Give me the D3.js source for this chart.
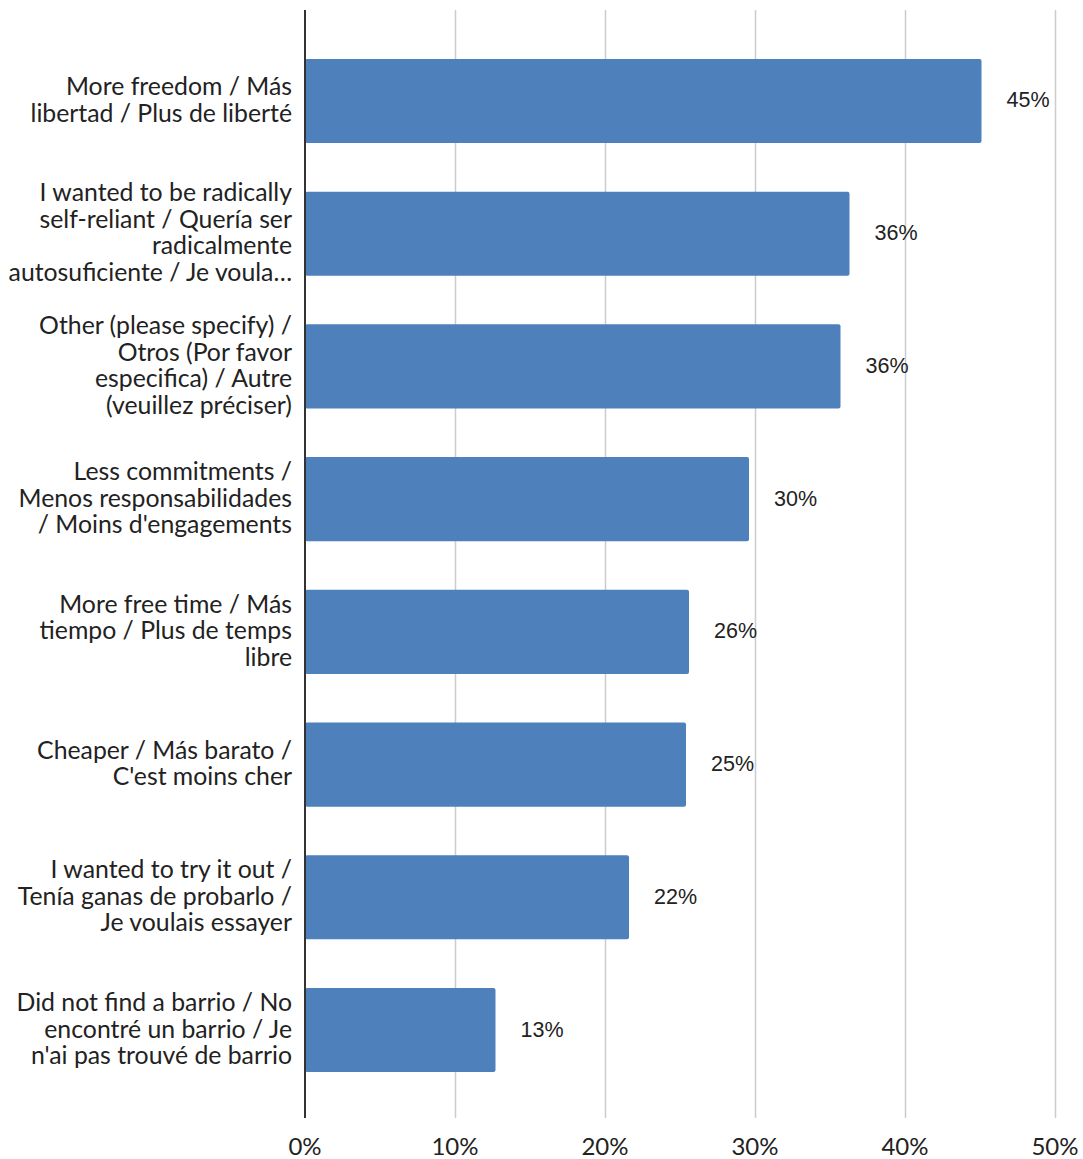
<!DOCTYPE html>
<html>
<head>
<meta charset="utf-8">
<script src="https://cdn.jsdelivr.net/npm/d3@7"></script>
<style>
  body { margin: 0; background: #fff; }
  svg { display: block; }
</style>
</head>
<body>
<svg id="chart" width="1083" height="1159"></svg>
<script>
// categories, one line of the label per array entry
var categories = [
  ["More freedom / Más", "libertad / Plus de liberté"],
  ["I wanted to be radically", "self-reliant / Quería ser", "radicalmente", "autosuficiente / Je voula…"],
  ["Other (please specify) /", "Otros (Por favor", "especifica) / Autre", "(veuillez préciser)"],
  ["Less commitments /", "Menos responsabilidades", "/ Moins d'engagements"],
  ["More free time / Más", "tiempo / Plus de temps", "libre"],
  ["Cheaper / Más barato /", "C'est moins cher"],
  ["I wanted to try it out /", "Tenía ganas de probarlo /", "Je voulais essayer"],
  ["Did not find a barrio / No", "encontré un barrio / Je", "n'ai pas trouvé de barrio"]
];
var values = [45.1, 36.3, 35.7, 29.6, 25.6, 25.4, 21.6, 12.7];
var valueLabels = ["45%", "36%", "36%", "30%", "26%", "25%", "22%", "13%"];
var ticks = [0, 10, 20, 30, 40, 50];

var data = values.map(function(v, i){
  return { key: i, lines: categories[i], value: v, label: valueLabels[i] };
});

var svg = d3.select("#chart");
var plotTop = 10, plotBottom = 1118;

var x = d3.scaleLinear().domain([0, 50]).range([305, 1055]);
var y = d3.scaleBand()
  .domain(data.map(d => d.key))
  .range([34.6, 1096.4])
  .paddingInner(0.367)
  .paddingOuter(0.183);

// gridlines
svg.append("g").selectAll("line")
  .data(ticks.filter(t => t > 0))
  .enter().append("line")
  .attr("x1", d => x(d) + 0.5).attr("x2", d => x(d) + 0.5)
  .attr("y1", plotTop).attr("y2", plotBottom)
  .attr("stroke", "#cccccc").attr("stroke-width", 1.5);

// bars
svg.append("g").selectAll("rect")
  .data(data)
  .enter().append("rect")
  .attr("x", x(0))
  .attr("y", d => y(d.key))
  .attr("width", d => x(d.value) - x(0))
  .attr("height", y.bandwidth())
  .attr("rx", 2)
  .attr("fill", "#4e80bc");

// axis line
svg.append("line")
  .attr("x1", x(0)).attr("x2", x(0))
  .attr("y1", plotTop).attr("y2", plotBottom)
  .attr("stroke", "#333").attr("stroke-width", 2);

// value labels
svg.append("g").selectAll("text")
  .data(data)
  .enter().append("text")
  .attr("x", d => x(d.value) + 25)
  .attr("y", d => y(d.key) + y.bandwidth() / 2)
  .attr("dy", "0.3em")
  .attr("font-family", "Liberation Sans, Arial, sans-serif")
  .attr("font-size", 21.5)
  .attr("fill", "#222")
  .text(d => d.label);

// category labels
var lineH = 26.6;
var cat = svg.append("g").selectAll("text")
  .data(data)
  .enter().append("text")
  .attr("text-anchor", "end")
  .attr("font-family", "Lato, sans-serif")
  .attr("font-size", 24.8)
  .attr("fill", "#222");
cat.each(function(d){
  var t = d3.select(this);
  var cy = y(d.key) + y.bandwidth() / 2;
  var y0 = cy - (d.lines.length - 1) * lineH / 2;
  d.lines.forEach(function(l, i){
    t.append("tspan").attr("x", 292).attr("y", y0 + i * lineH).attr("dy", "0.3em").text(l);
  });
});

// x tick labels
svg.append("g").selectAll("text")
  .data(ticks)
  .enter().append("text")
  .attr("x", d => x(d))
  .attr("y", 1155)
  .attr("text-anchor", "middle")
  .attr("font-family", "Lato, sans-serif")
  .attr("font-size", 24)
  .attr("fill", "#222")
  .text(d => d + "%");
</script>
</body>
</html>
